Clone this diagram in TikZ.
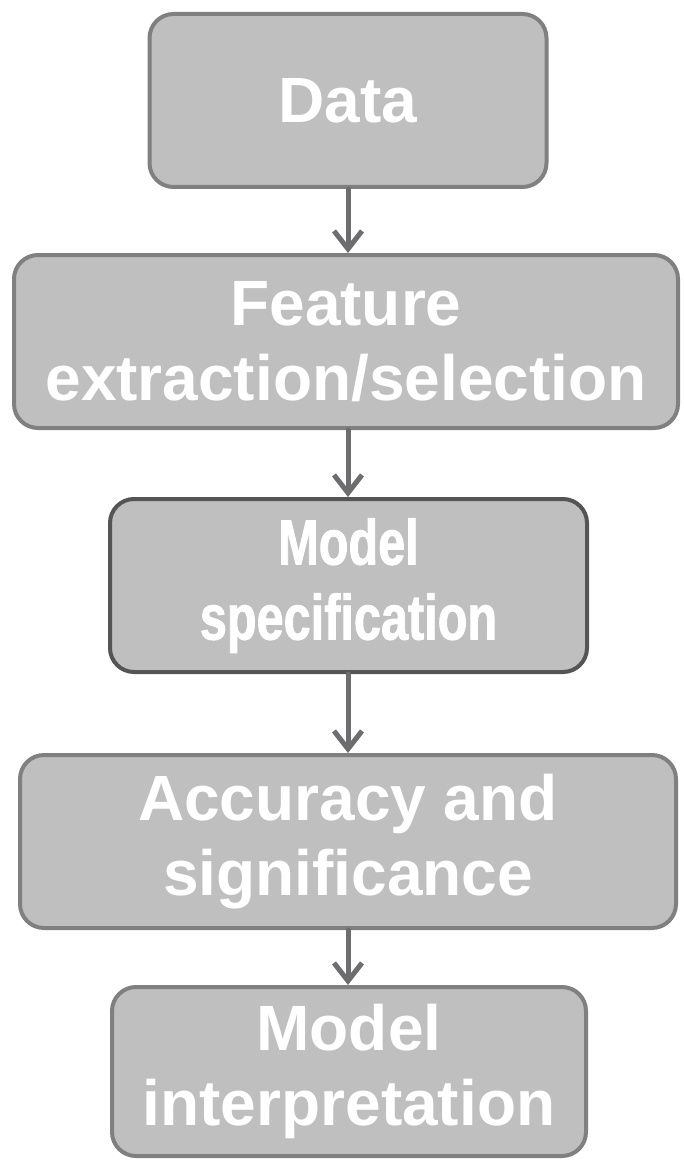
\documentclass[tikz,border=0pt]{standalone}
\usepackage{fontspec}
\setmainfont{Liberation Sans}
\newfontfamily\narrowfont[FakeStretch=0.76,FakeBold=1.3]{Liberation Sans Bold}
\usepackage{xcolor}
\usepackage{tikz}
\usetikzlibrary{arrows.meta,calc}

\definecolor{boxfill}{HTML}{BFBFBF}
\definecolor{boxedge}{HTML}{808080}
\definecolor{boxedgedark}{HTML}{555555}
\definecolor{arrowgray}{HTML}{6D6D70}

\begin{document}
\begin{tikzpicture}[
  x=1pt, y=-1pt,
  >={Straight Barb[length=18pt,width=28pt]},
  line cap=round,
  line join=round,
  stage/.style={draw=boxedge, fill=boxfill, line width=4pt,
    rounded corners=24pt, text=white, align=center, inner sep=0pt,
    font=\fontsize{64}{75}\selectfont\bfseries},
  link/.style={->, draw=arrowgray, line width=5pt}
]
  \useasboundingbox (0,0) rectangle (683,1161);

  % Stages, top to bottom
  \node[stage, minimum width=397pt, minimum height=173pt] (data) at (348,100.5) {Data};
  \node[stage, minimum width=664pt, minimum height=173pt] (feat) at (346,341.5) {Feature\\extraction/selection};
  \node[stage, draw=boxedgedark, minimum width=477pt, minimum height=173pt,
        font=\fontsize{64}{75}\selectfont\narrowfont] (spec) at (348.5,585.5) {Model\\specification};
  \node[stage, minimum width=656pt, minimum height=173pt] (acc) at (348,841.5) {Accuracy and\\significance};
  \node[stage, minimum width=474pt, minimum height=169pt] (interp) at (349,1071.5) {Model\\interpretation};

  % Links between stages
  \draw[link] (data.south) -- (data.south |- feat.north);
  \draw[link] (data.south |- feat.south) -- (data.south |- spec.north);
  \draw[link] (data.south |- spec.south) -- (data.south |- acc.north);
  \draw[link] (data.south |- acc.south) -- (data.south |- interp.north);
\end{tikzpicture}
\end{document}
